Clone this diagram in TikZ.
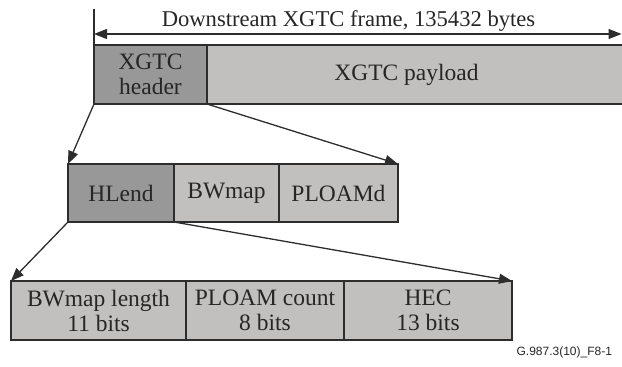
\documentclass[tikz,border=0pt]{standalone}
\usepackage{fontspec}
\setmainfont{Liberation Serif}
\newfontfamily\figfont{Liberation Sans}
\usepackage{tikz}
\usetikzlibrary{arrows.meta}
\definecolor{hdrGray}{RGB}{152,152,152}
\definecolor{bodyGray}{RGB}{193,192,190}
\definecolor{edgeGray}{RGB}{45,45,45}

\begin{document}
\begin{tikzpicture}[x=1pt, y=-1pt]%
  \tikzset{normal arrow/.style={draw,-{Triangle[length=13pt,width=10pt]},line width=1.3pt,edgeGray}}
  \tikzstyle{every node}=[draw=edgeGray, line width=1.3pt, text=black!85, rectangle, minimum height=59pt, outer sep=0pt, inner sep=0pt, align=center, font=\fontsize{23.5}{25}\selectfont]
  \useasboundingbox (0,0) rectangle (622,367);

  % outer frame
  \node[fill=hdrGray, minimum width=113pt] at (150.5,74.5) (XH) {XGTC\\header};
  \node[fill=bodyGray, minimum width=419pt] at (416.5,74.5) (XP) {XGTC payload\kern20pt};

  % header fields
  \node[fill=hdrGray, minimum width=106pt, minimum height=58pt] at (121,193) (HL) {HLend};
  \node[fill=bodyGray, minimum width=105pt, minimum height=58pt] at (226.5,193) (BW) {\raisebox{3pt}{BWmap}};
  \node[fill=bodyGray, minimum width=119pt, minimum height=58pt] at (338.5,193) (PL) {PLOAMd};

  % HLend fields
  \node[fill=bodyGray, minimum width=175pt] at (98.5,310.5) (BL) {BWmap length\\11 bits};
  \node[fill=bodyGray, minimum width=158pt] at (265,310.5) (PC) {PLOAM count\\8 bits};
  \node[fill=bodyGray, minimum width=168pt] at (428,310.5) (HEC) {HEC\\13 bits};

  % frame length
  \coordinate (tick) at (94,9);
  \coordinate (dimL) at (94,34);
  \coordinate (dimR) at (621.5,34);
  \draw[line width=1.3pt, edgeGray] (tick) -- (XH.north west);
  \draw[normal arrow, {Triangle[length=13pt,width=10pt]}-{Triangle[length=13pt,width=10pt]}] (dimL) -- (dimR);
  \node[draw=none, minimum height=0pt, font=\fontsize{22.6}{25}\selectfont] at (348.5,20.5) (FL) {Downstream XGTC frame, 135432 bytes};

  \path[normal arrow] (XH.south west) -- (HL.north west);
  \path[normal arrow] (XH.south east) -- (PL.north east);
  \path[normal arrow] (HL.south west) -- (BL.north west);
  \path[normal arrow] (HL.south east) -- (HEC.north east);

  \node[draw=none, minimum height=0pt, anchor=east, font=\figfont\fontsize{12}{14}\selectfont] at (612,352) (fig) {G.987.3(10)\_F8-1};
\end{tikzpicture}
\end{document}
